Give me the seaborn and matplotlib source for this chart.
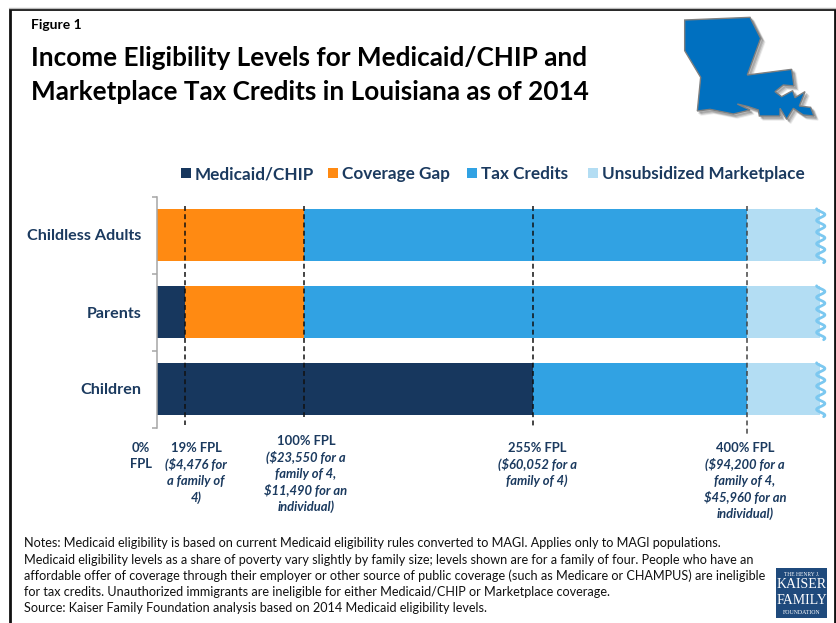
import matplotlib
matplotlib.use("Agg")
import matplotlib.pyplot as plt
import numpy as np
import seaborn as sns
from matplotlib.patches import Polygon, Rectangle

sns.set_theme(style="white")
plt.rcParams['font.family'] = ['Lato', 'DejaVu Sans']

# ---------- data ----------
categories = ["Childless Adults", "Parents", "Children"]
medicaid = [0, 19, 255]
gap = [100, 81, 0]
credits = [300, 300, 145]
unsubsidized = [50, 50, 50]
fpl_marks = [19, 100, 255, 400]
series_names = ["Medicaid/CHIP", "Coverage Gap", "Tax Credits", "Unsubsidized Marketplace"]
series_colors = ["#17375E", "#FF8A12", "#31A2E3", "#B3DDF3"]
fpl_labels = [
    (141, 448, ["0%", "FPL"], []),
    (196, 448, ["19% FPL"], ["($4,476 for", "a family of", "4)"]),
    (306, 441, ["100% FPL"], ["($23,550 for a", "family of 4,", "$11,490 for an", "individual)"]),
    (537, 448, ["255% FPL"], ["($60,052 for a", "family of 4)"]),
    (745, 448, ["400% FPL"], ["($94,200 for a", "family of 4,", "$45,960 for an", "individual)"]),
]
notes = [
    "Notes: Medicaid eligibility is based on current Medicaid eligibility rules converted to MAGI. Applies only to MAGI populations.",
    "Medicaid eligibility levels as a share of poverty vary slightly by family size; levels shown are for a family of four. People who have an",
    "affordable offer of coverage through their employer or other source of public coverage (such as Medicare or CHAMPUS) are ineligible",
    "for tax credits. Unauthorized immigrants are ineligible for either Medicaid/CHIP or Marketplace coverage.",
    "Source: Kaiser Family Foundation analysis based on 2014 Medicaid eligibility levels.",
]
NAVY = "#1B3A5F"
W, H = 836, 623

fig = plt.figure(figsize=(W / 100, H / 100), dpi=100, facecolor="white")

# pixel-space overlay for page furniture
page = fig.add_axes([0, 0, 1, 1], zorder=0)
page.set_xlim(0, W)
page.set_ylim(H, 0)
page.axis("off")
page.plot([9.5, 9.5, 835, 835], [H, 9, 9, H], color="#111111", lw=2, solid_joinstyle="miter")
page.plot([9, 836], [7.5, 7.5], color="#BBBBBB", lw=1)

# chart axes
x0, x1, y0, y1 = 157, 820, 196.5, 427.5
ax = fig.add_axes([x0 / W, 1 - y1 / H, (x1 - x0) / W, (y1 - y0) / H], zorder=1)
ax.patch.set_alpha(0)
left = np.zeros(3)
for name, vals, col in zip(series_names, [medicaid, gap, credits, unsubsidized], series_colors):
    sns.barplot(x=vals, y=categories, left=left, color=col, width=0.665, orient="h",
                saturation=1, ax=ax, linewidth=0)
    left = left + np.array(vals)
ax.set_xlim(0, 449.5)
ax.set_ylim(2.5, -0.5)
ax.set_xticks([])
ax.set_yticks([0, 1, 2])
ax.set_yticklabels(categories, fontsize=11.6, fontweight="bold", color=NAVY)
ax.tick_params(axis="y", which="major", length=0, pad=11)
ax.set_yticks([-0.5, 0.5, 1.5, 2.5], minor=True)
ax.tick_params(axis="y", which="minor", length=3.6, width=1.1, color="#A6A6A6", left=True)
for s in ["top", "right", "bottom"]:
    ax.spines[s].set_visible(False)
ax.spines["left"].set_color("#A6A6A6")
ax.spines["left"].set_linewidth(1.1)

# wavy torn right edge on each bar
for yc in range(3):
    ys = np.linspace(yc - 0.34, yc + 0.36, 140)
    xs = 450 + 2.8 * np.sin((ys - yc) * 2 * np.pi * 6.6)
    ax.plot(xs, ys, color="#7CC8F0", lw=2, clip_on=False, zorder=4)

# dashed FPL markers
for v, end in zip(fpl_marks, [2.47, 2.37, 2.5, 2.58]):
    ax.plot([v, v], [-0.38, end], color="#111111" if v < 400 else "#444444", lw=1.1,
            ls=(0, (3.2, 2.2)), zorder=5, clip_on=False)

# legend (manual swatches as in the original)
legend_x = [181, 328, 467, 588]
for xp, name, col in zip(legend_x, series_names, series_colors):
    page.add_patch(Rectangle((xp, 168), 10, 10, color=col, lw=0))
    page.text(xp + 14, 174, name, fontsize=12.3, fontweight="bold", color=NAVY, va="center", ha="left")

# titles
page.text(31, 25, "Figure 1", fontsize=10, fontweight="bold", color="black", va="center")
page.text(31, 58, "Income Eligibility Levels for Medicaid/CHIP and", fontsize=18.85, fontweight="bold", color="black", va="center")
page.text(31, 92, "Marketplace Tax Credits in Louisiana as of 2014", fontsize=18.85, fontweight="bold", color="black", va="center")

# FPL labels
for xp, yp, head, body in fpl_labels:
    for i, line in enumerate(head):
        page.text(xp, yp + 16.4 * i, line, fontsize=9.4, fontweight="bold", color=NAVY, ha="center", va="center")
    for i, line in enumerate(body):
        page.text(xp, yp + 16.4 * (i + len(head)), line, fontsize=9.4, fontweight="bold", style="italic",
                  color=NAVY, ha="center", va="center")

# notes
for yp, line in zip([543, 560, 576, 592, 608.5], notes):
    page.text(24, yp, line, fontsize=9.1, color="#111111", va="center")

# Louisiana outline
la = np.array([(134,60),(330,52),(362,115),(322,225),(455,208),(462,258),(430,255),(405,275),(425,290),
               (458,272),(465,293),(495,275),(478,318),(512,322),(522,348),(490,345),(460,325),(440,358),
               (420,325),(420,348),(358,348),(355,330),(325,320),(292,312),(330,330),(280,342),(210,328),
               (172,333),(182,232),(134,152)], dtype=float)
la = la / 3 + np.array([640, 0])
for off, a in [(4, .10), (3, .15), (2, .22)]:
    page.add_patch(Polygon(la + off, closed=True, color="#555555", alpha=a, lw=1.2))
page.add_patch(Polygon(la, closed=True, facecolor="#0070C0", edgecolor="#7F7F7F", lw=1.0))

# logo
page.add_patch(Rectangle((776, 568), 51, 50, color="#1F4A7C", lw=0))
for yp, s, fs in [(574, "THE HENRY J.", 4), (585, "KAISER", 10), (600, "FAMILY", 10), (613, "FOUNDATION", 4.2)]:
    page.text(801.5, yp, s, color="white", fontsize=fs, family="Liberation Serif", ha="center", va="center")

fig.savefig("out.png", dpi=100, facecolor="white")
